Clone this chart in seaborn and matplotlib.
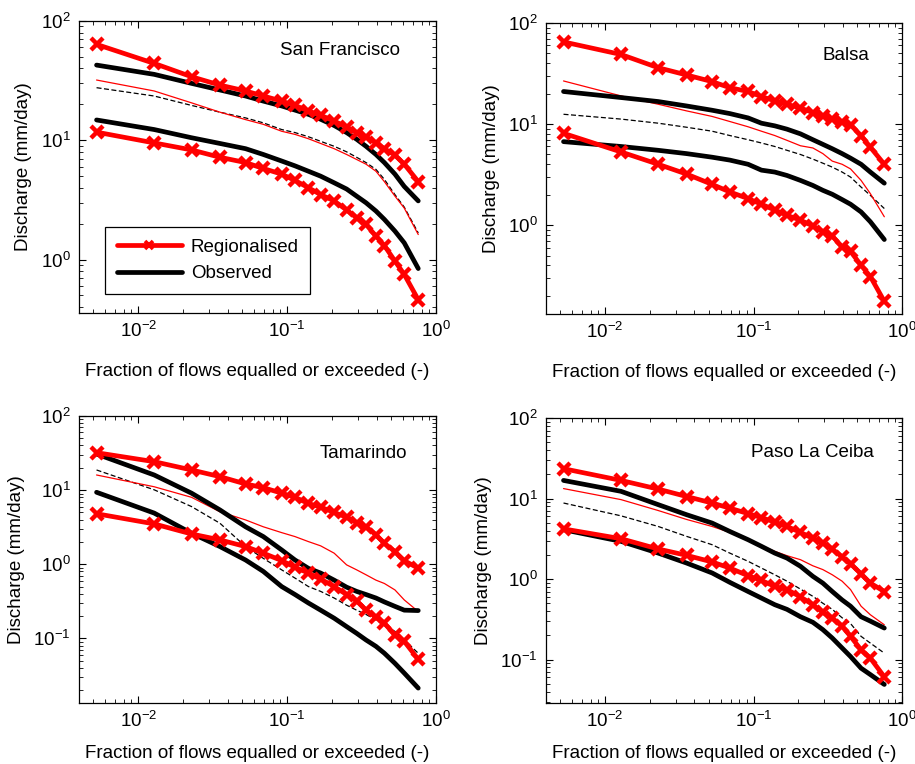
import matplotlib
matplotlib.use("Agg")
import matplotlib.pyplot as plt
import seaborn as sns
from matplotlib.lines import Line2D
from matplotlib.ticker import LogLocator, LogFormatterSciNotation, NullFormatter

# Fraction of flows equalled or exceeded (shared by every curve)
exceedance = [0.00525, 0.0128, 0.0228, 0.0354, 0.0526, 0.0692, 0.0919, 0.113,
              0.139, 0.168, 0.207, 0.251, 0.293, 0.339, 0.395, 0.450, 0.530,
              0.612, 0.760]

# San Francisco
sf_reg_hi = [63.7, 44.1, 34.1, 29.0, 25.9, 23.5, 21.3, 19.6, 17.6, 16.2, 14.5,
             12.9, 11.6, 10.7, 9.5, 8.5, 7.5, 6.3, 4.5]
sf_reg_lo = [11.7, 9.5, 8.3, 7.2, 6.5, 5.8, 5.2, 4.6, 4.0, 3.5, 3.1, 2.6, 2.24,
             1.97, 1.57, 1.31, 0.97, 0.75, 0.46]
sf_reg_mid = [32.0, 25.9, 20.6, 17.2, 14.9, 13.6, 11.9, 11.2, 10.3, 9.4, 8.5,
              7.6, 6.9, 6.3, 5.5, 4.5, 3.4, 2.7, 1.62]
sf_obs_hi = [42.7, 35.7, 30.0, 26.4, 23.5, 21.3, 19.4, 17.9, 16.5, 15.0, 13.3,
             11.6, 10.2, 8.9, 7.6, 6.5, 5.2, 4.1, 3.1]
sf_obs_lo = [14.8, 12.3, 10.5, 9.4, 8.5, 7.6, 6.7, 6.1, 5.5, 5.0, 4.4, 3.9, 3.4,
             2.99, 2.55, 2.17, 1.73, 1.38, 0.84]
sf_obs_mid = [27.6, 23.5, 19.6, 17.2, 15.4, 14.0, 12.3, 11.6, 10.7, 9.8, 8.9,
              8.0, 7.2, 6.5, 5.7, 4.7, 3.5, 2.75, 1.67]

# Balsa
ba_reg_hi = [65.0, 48.8, 36.1, 30.6, 26.3, 22.9, 21.0, 18.7, 17.0, 15.7, 14.4,
             13.0, 12.1, 11.2, 10.4, 9.8, 7.7, 5.9, 4.0]
ba_reg_lo = [8.1, 5.3, 4.0, 3.2, 2.53, 2.13, 1.83, 1.61, 1.41, 1.25, 1.12, 0.98,
             0.86, 0.78, 0.61, 0.55, 0.40, 0.31, 0.176]
ba_reg_mid = [26.7, 19.0, 15.7, 13.5, 11.9, 10.6, 9.4, 8.5, 7.7, 6.9, 6.1, 5.8,
              5.1, 4.3, 4.0, 3.6, 2.77, 2.05, 1.21]
ba_obs_hi = [21.0, 18.3, 16.7, 15.1, 13.7, 12.7, 11.5, 10.2, 9.6, 8.9, 8.0, 7.0,
             6.3, 5.7, 5.1, 4.6, 4.0, 3.35, 2.6]
ba_obs_lo = [6.7, 6.0, 5.5, 5.1, 4.7, 4.4, 4.0, 3.5, 3.35, 3.1, 2.77, 2.47, 2.21,
             2.02, 1.79, 1.61, 1.35, 1.08, 0.72]
ba_obs_mid = [12.5, 11.2, 10.2, 9.3, 8.5, 7.7, 7.0, 6.5, 6.0, 5.5, 5.0, 4.5, 4.1,
              3.75, 3.35, 2.99, 2.38, 1.97, 1.46]

# Tamarindo
ta_reg_hi = [32.0, 24.2, 18.7, 15.2, 12.1, 10.8, 9.1, 8.0, 6.6, 5.9, 5.0, 4.3,
             3.65, 3.2, 2.49, 1.92, 1.48, 1.12, 0.88]
ta_reg_lo = [4.8, 3.5, 2.56, 2.13, 1.73, 1.41, 1.12, 0.91, 0.76, 0.63, 0.50,
             0.39, 0.32, 0.24, 0.193, 0.160, 0.111, 0.091, 0.052]
ta_reg_mid = [16.0, 11.1, 8.0, 5.1, 3.96, 3.2, 2.67, 2.36, 2.02, 1.77, 1.41,
              0.98, 0.84, 0.72, 0.61, 0.55, 0.45, 0.33, 0.23]
ta_obs_hi = [30.7, 16.0, 9.1, 5.4, 3.2, 2.36, 1.56, 1.14, 0.88, 0.76, 0.61, 0.49,
             0.43, 0.39, 0.35, 0.31, 0.27, 0.24, 0.237]
ta_obs_lo = [9.35, 4.9, 2.62, 1.73, 1.14, 0.80, 0.50, 0.39, 0.30, 0.24, 0.187,
             0.144, 0.117, 0.095, 0.078, 0.063, 0.046, 0.034, 0.0213]
ta_obs_mid = [18.7, 10.1, 6.0, 3.57, 1.73, 1.2, 0.84, 0.65, 0.50, 0.43, 0.35,
              0.28, 0.24, 0.21, 0.177, 0.152, 0.124, 0.095, 0.063]

# Paso La Ceiba
pc_reg_hi = [23.5, 16.8, 13.1, 10.6, 8.8, 7.6, 6.5, 5.8, 5.1, 4.5, 3.8, 3.2, 2.8,
             2.36, 1.88, 1.55, 1.16, 0.89, 0.70]
pc_reg_lo = [4.2, 3.17, 2.36, 1.97, 1.63, 1.37, 1.10, 0.96, 0.81, 0.74, 0.60,
             0.48, 0.385, 0.328, 0.258, 0.194, 0.132, 0.104, 0.061]
pc_reg_mid = [13.3, 9.7, 7.1, 5.5, 4.5, 3.8, 3.14, 2.6, 2.21, 1.95, 1.74, 1.46,
              1.31, 1.13, 0.94, 0.74, 0.46, 0.36, 0.27]
pc_obs_hi = [16.8, 12.3, 8.4, 6.3, 4.96, 3.9, 3.08, 2.55, 2.10, 1.82, 1.44, 1.08,
             0.89, 0.70, 0.55, 0.46, 0.34, 0.30, 0.246]
pc_obs_lo = [4.1, 2.94, 2.10, 1.58, 1.19, 0.91, 0.70, 0.58, 0.48, 0.42, 0.34,
             0.29, 0.235, 0.185, 0.139, 0.109, 0.078, 0.065, 0.049]
pc_obs_mid = [8.8, 6.1, 4.5, 3.39, 2.67, 2.10, 1.66, 1.37, 1.13, 0.94, 0.75,
              0.61, 0.50, 0.42, 0.33, 0.28, 0.194, 0.160, 0.120]

station_names = ["San Francisco", "Balsa", "Tamarindo", "Paso La Ceiba"]
legend_labels = ["Regionalised", "Observed"]
x_label = "Fraction of flows equalled or exceeded (-)"
y_label = "Discharge (mm/day)"

sns.set_theme(style="ticks")
plt.rcParams["font.family"] = ["Liberation Sans", "DejaVu Sans"]
plt.rcParams["mathtext.fontset"] = "custom"
plt.rcParams["mathtext.rm"] = "Liberation Sans"
plt.rcParams["mathtext.it"] = "Liberation Sans:italic"
plt.rcParams["mathtext.bf"] = "Liberation Sans:bold"
plt.rcParams["axes.edgecolor"] = "black"
plt.rcParams["axes.linewidth"] = 0.9

RED = "#ff0000"
FS = 13.5

fig = plt.figure(figsize=(9.15, 7.64), dpi=100)

panels = [
    dict(rect=[0.0863, 0.5903, 0.3902, 0.3822], ylim=(0.356, 100), xpad=15.5,
         data=(sf_reg_hi, sf_reg_lo, sf_reg_mid, sf_obs_hi, sf_obs_lo, sf_obs_mid),
         title_xy=(0.90, 0.90)),
    dict(rect=[0.5967, 0.5890, 0.3891, 0.3809], ylim=(0.132, 100), xpad=15.5,
         data=(ba_reg_hi, ba_reg_lo, ba_reg_mid, ba_obs_hi, ba_obs_lo, ba_obs_mid),
         title_xy=(0.907, 0.89)),
    dict(rect=[0.0863, 0.0798, 0.3902, 0.3757], ylim=(0.0134, 100), xpad=9.5,
         data=(ta_reg_hi, ta_reg_lo, ta_reg_mid, ta_obs_hi, ta_obs_lo, ta_obs_mid),
         title_xy=(0.919, 0.868)),
    dict(rect=[0.5967, 0.0798, 0.3891, 0.3730], ylim=(0.0288, 100), xpad=9.5,
         data=(pc_reg_hi, pc_reg_lo, pc_reg_mid, pc_obs_hi, pc_obs_lo, pc_obs_mid),
         title_xy=(0.92, 0.88)),
]

for name, p in zip(station_names, panels):
    ax = fig.add_axes(p["rect"])
    reg_hi, reg_lo, reg_mid, obs_hi, obs_lo, obs_mid = p["data"]

    # median curves (thin)
    sns.lineplot(x=exceedance, y=obs_mid, ax=ax, color="black", lw=0.9,
                 linestyle=(0, (4, 2)), estimator=None, sort=False)
    sns.lineplot(x=exceedance, y=reg_mid, ax=ax, color=RED, lw=0.9,
                 estimator=None, sort=False)
    # observed bounds
    for yv in (obs_hi, obs_lo):
        sns.lineplot(x=exceedance, y=yv, ax=ax, color="black", lw=3.4,
                     estimator=None, sort=False, solid_joinstyle="round")
    # regionalised bounds
    for yv in (reg_hi, reg_lo):
        sns.lineplot(x=exceedance, y=yv, ax=ax, color=RED, lw=3.4,
                     marker="x", markersize=9, markeredgewidth=3.2,
                     markeredgecolor=RED, estimator=None, sort=False)

    ax.set_xscale("log")
    ax.set_yscale("log")
    ax.set_xlim(0.004, 1)
    ax.set_ylim(*p["ylim"])

    for axis in (ax.xaxis, ax.yaxis):
        axis.set_major_locator(LogLocator(base=10, numticks=10))
        axis.set_minor_locator(LogLocator(base=10, subs=range(2, 10), numticks=20))
        axis.set_major_formatter(LogFormatterSciNotation())
        axis.set_minor_formatter(NullFormatter())

    ax.tick_params(which="both", direction="in", top=True, right=True,
                   colors="black", labelsize=FS)
    ax.tick_params(which="major", length=5, width=0.8, pad=6)
    ax.tick_params(which="minor", length=3, width=0.6)
    for s in ax.spines.values():
        s.set_visible(True)
        s.set_color("black")

    ax.set_xlabel(x_label, fontsize=FS, labelpad=p["xpad"], color="black")
    ax.set_ylabel(y_label, fontsize=FS, labelpad=6, color="black")
    ax.text(p["title_xy"][0], p["title_xy"][1], name, transform=ax.transAxes,
            ha="right", va="center", fontsize=FS, color="black")

    if ax.get_legend() is not None:
        ax.get_legend().remove()

    if name == station_names[0]:
        handles = [
            Line2D([], [], color=RED, lw=3.4, marker="x", markersize=6,
                   markeredgewidth=2.6),
            Line2D([], [], color="black", lw=3.4),
        ]
        leg = ax.legend(handles, legend_labels, loc="upper left",
                        bbox_to_anchor=(0.074, 0.295), borderaxespad=0,
                        fontsize=FS, handlelength=3.45, handletextpad=0.48,
                        borderpad=0.62, labelspacing=0.5,
                        fancybox=False, framealpha=1, edgecolor="black")
        leg.get_frame().set_linewidth(0.9)
        for t in leg.get_texts():
            t.set_color("black")

fig.savefig("out.png", dpi=100)
